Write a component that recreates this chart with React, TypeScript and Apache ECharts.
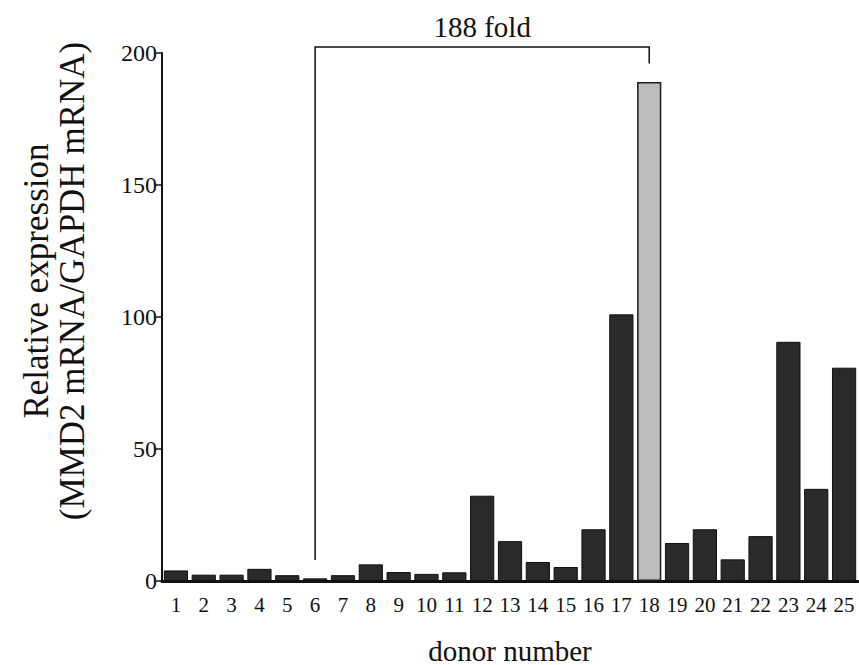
import React, { useEffect, useRef } from "react";
import * as echarts from "echarts";

const donors = ["1","2","3","4","5","6","7","8","9","10","11","12","13","14","15","16","17","18","19","20","21","22","23","24","25"];
const expression = [4.0, 2.4, 2.4, 4.6, 2.2, 1.0, 2.2, 6.3, 3.4, 2.7, 3.3, 32.3, 15.1, 7.2, 5.3, 19.6, 101, 189, 14.4, 19.6, 8.2, 17, 90.6, 34.9, 80.8];
const highlightDonor = "18";
const foldLabel = "188 fold";
// [fromIndex, toIndex, bracketTop, leftLegEnd, rightLegEnd]
const bracket = [[5, 17, 202.3, 8, 196]];
const yTicks = { min: 0, max: 200, interval: 50 };

const serif = '"Liberation Serif", "Times New Roman", serif';

export default function App() {
  const ref = useRef<HTMLDivElement>(null);
  useEffect(() => {
    const chart = echarts.init(ref.current!, null, { renderer: "svg" });
    const barData = expression.map((v, i) => ({
      value: v,
      itemStyle:
        donors[i] === highlightDonor
          ? { color: "#bdbdbd", borderColor: "#1a1a1a", borderWidth: 1.5 }
          : { color: "#2a2a2a", borderColor: "#111", borderWidth: 1 },
    }));
    chart.setOption({
      animation: false,
      backgroundColor: "#fff",
      grid: { left: 162, right: 1, top: 53, bottom: 84, containLabel: false, outerBoundsMode: "none" },
      xAxis: {
        type: "category",
        data: donors,
        name: "donor number",
        nameLocation: "middle",
        nameGap: 55,
        nameTextStyle: { fontFamily: serif, fontSize: 29, color: "#111" },
        axisLine: { lineStyle: { color: "#111", width: 3 } },
        axisTick: { show: false },
        axisLabel: { fontFamily: serif, fontSize: 21, color: "#111", margin: 13, interval: 0 },
      },
      yAxis: {
        type: "value",
        min: yTicks.min,
        max: yTicks.max,
        interval: yTicks.interval,
        splitLine: { show: false },
        axisLine: { show: true, lineStyle: { color: "#111", width: 2 } },
        axisTick: { show: true, length: 6, lineStyle: { color: "#111", width: 1.5 } },
        axisLabel: { fontFamily: serif, fontSize: 24, color: "#111", margin: 5 },
      },
      graphic: [
        {
          type: "text",
          x: 54,
          y: 281,
          rotation: Math.PI / 2,
          style: {
            text: "Relative expression\n(MMD2 mRNA/GAPDH mRNA)",
            font: `35px ${serif}`,
            fill: "#111",
            align: "center",
            verticalAlign: "middle",
            lineHeight: 36,
          },
        },
      ],
      series: [
        {
          type: "bar",
          data: barData,
          barCategoryGap: "13%",
        },
        {
          type: "custom",
          clip: false,
          data: bracket,
          encode: { x: 0, y: 2 },
          renderItem: (params: any, api: any) => {
            const a = api.value(0), b = api.value(1), top = api.value(2);
            const p1 = api.coord([a, api.value(3)]);
            const p2 = api.coord([a, top]);
            const p3 = api.coord([b, top]);
            const p4 = api.coord([b, api.value(4)]);
            return {
              type: "group",
              children: [
                {
                  type: "polyline",
                  shape: { points: [p1, p2, p3, p4] },
                  style: { stroke: "#111", lineWidth: 1.5, fill: null },
                },
                {
                  type: "text",
                  style: {
                    text: foldLabel,
                    x: (p2[0] + p3[0]) / 2,
                    y: p2[1] - 5,
                    align: "center",
                    verticalAlign: "bottom",
                    font: `29px ${serif}`,
                    fill: "#111",
                  },
                },
              ],
            };
          },
        },
      ],
    });
    return () => chart.dispose();
  }, []);
  return <div ref={ref} style={{ position: "fixed", left: 0, top: 0, width: 859, height: 665 }} />;
}
